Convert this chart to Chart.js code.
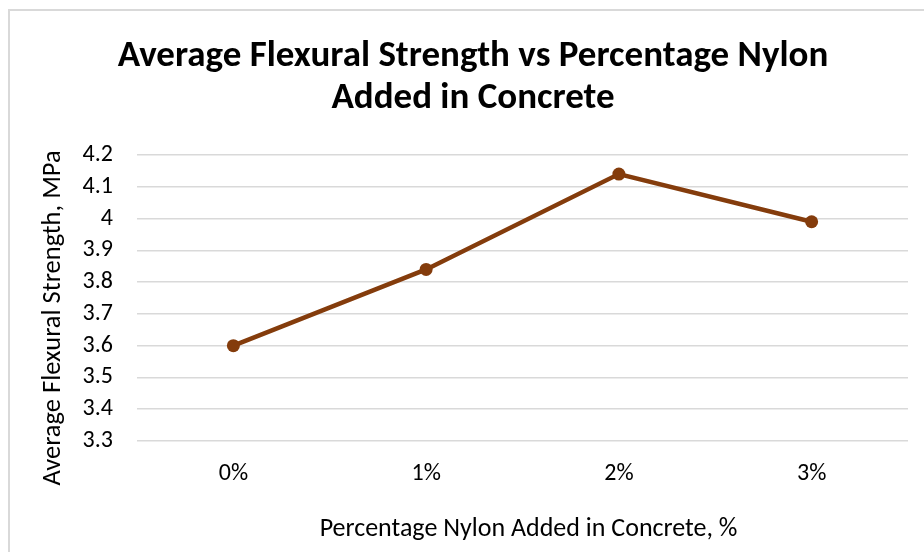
<!DOCTYPE html>
<html>
<head>
<meta charset="utf-8">
<script src="https://cdn.jsdelivr.net/npm/chart.js@4/dist/chart.umd.min.js"></script>
<style>
  html, body { margin: 0; padding: 0; background: #ffffff; }
  #wrap { position: relative; width: 924px; height: 552px; overflow: hidden; }
  canvas { display: block; }
</style>
</head>
<body>
<div id="wrap"><canvas id="chart" width="924" height="552"></canvas></div>
<script>
// Nylon content of the concrete mix and the measured average flexural strength
const categories = ['0%', '1%', '2%', '3%'];
const strengthValues = [3.6, 3.84, 4.14, 3.99];
const yTicks = [3.3, 3.4, 3.5, 3.6, 3.7, 3.8, 3.9, 4.0, 4.1, 4.2];

const chartTitle = ['Average Flexural Strength vs Percentage Nylon', 'Added in Concrete'];
const xAxisTitle = 'Percentage Nylon Added in Concrete, %';
const yAxisTitle = 'Average Flexural Strength, MPa';

const FONT = "Carlito, Calibri, 'Liberation Sans Narrow', 'Open Sans', sans-serif";

// Light grey outline around the chart panel
const framePlugin = {
  id: 'frame',
  beforeDraw(chart) {
    const ctx = chart.ctx;
    ctx.save();
    ctx.fillStyle = '#ffffff';
    ctx.fillRect(0, 0, chart.width, chart.height);
    ctx.strokeStyle = '#d9d9d9';
    ctx.lineWidth = 2;
    ctx.strokeRect(9, 10, chart.width + 20, chart.height + 20);
    ctx.restore();
  }
};

// Axis titles, placed relative to the plot area like a spreadsheet chart
const axisTitlePlugin = {
  id: 'axisTitles',
  afterDraw(chart) {
    const ctx = chart.ctx;
    const area = chart.chartArea;
    ctx.save();
    ctx.fillStyle = '#000000';
    ctx.font = '26px ' + FONT;
    ctx.textAlign = 'center';
    ctx.textBaseline = 'middle';
    // horizontal axis title, below the category labels
    ctx.fillText(xAxisTitle, (area.left + area.right) / 2 + 6, area.bottom + 88);
    // vertical axis title, rotated, slightly below the plot's mid-height
    ctx.translate(53, (area.top + area.bottom) / 2 + 20);
    ctx.rotate(-Math.PI / 2);
    ctx.font = '26.5px ' + FONT;
    ctx.fillText(yAxisTitle, 0, 0);
    ctx.restore();
  }
};

new Chart(document.getElementById('chart'), {
  type: 'line',
  data: {
    labels: categories,
    datasets: [{
      data: strengthValues,
      borderColor: '#843c0c',
      backgroundColor: '#843c0c',
      borderWidth: 4.5,
      pointRadius: 6.5,
      pointHoverRadius: 6.5,
      pointBorderWidth: 0,
      tension: 0,
      fill: false
    }]
  },
  options: {
    responsive: false,
    animation: false,
    layout: { padding: { left: 38, right: 16, top: 36, bottom: 8 } },
    plugins: {
      legend: { display: false },
      tooltip: { enabled: false },
      title: {
        display: true,
        text: chartTitle,
        color: '#000000',
        font: { family: FONT, size: 37, weight: 'bold', lineHeight: 42 / 37 },
        padding: { top: 0, bottom: 35 }
      }
    },
    scales: {
      x: {
        type: 'category',
        offset: true,
        afterFit(scale) {
          scale.height = 103;
        },
        grid: { display: false, drawTicks: false },
        border: { display: false },
        ticks: {
          color: '#000000',
          font: { family: FONT, size: 24, lineHeight: 1.2 },
          padding: 19
        },
        title: { display: false, text: xAxisTitle }
      },
      y: {
        min: 3.3,
        max: 4.2,
        afterBuildTicks(scale) {
          scale.ticks = yTicks.map(v => ({ value: v }));
        },
        afterFit(scale) {
          scale.width = 137 - 38;
        },
        grid: { color: '#d9d9d9', lineWidth: 1.5, drawTicks: false },
        border: { display: false },
        ticks: {
          color: '#000000',
          font: { family: FONT, size: 24 },
          padding: 24,
          autoSkip: false,
          callback: v => String(Math.round(v * 10) / 10)
        },
        title: { display: false, text: yAxisTitle }
      }
    }
  },
  plugins: [framePlugin, axisTitlePlugin]
});
</script>
</body>
</html>
